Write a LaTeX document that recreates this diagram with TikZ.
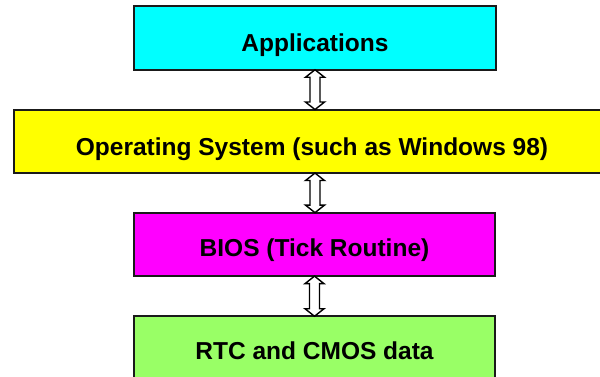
\documentclass[tikz,border=0pt]{standalone}
\usepackage{fontspec}
\setmainfont{Liberation Sans}
\usetikzlibrary{calc}
\definecolor{appcol}{HTML}{00FFFF}
\definecolor{oscol}{HTML}{FFFF00}
\definecolor{bioscol}{HTML}{FF00FF}
\definecolor{rtccol}{HTML}{99FF66}
\definecolor{edge}{HTML}{1A1A1A}
\tikzset{
  layer/.style={draw=edge, line width=2pt, minimum height=63.5pt, inner sep=0pt, outer sep=0pt},
  lbl/.style={anchor=base, inner sep=0pt, font=\bfseries\fontsize{24.5}{28}\selectfont},
  dblarrow/.style={draw=black, fill=white, line width=1.4pt, line join=miter}
}
\newcommand{\hollowdbl}[2]{%
  \draw[dblarrow] let \p1=(#1.south), \p2=(#2.north) in
    (\x1,\y1) -- (\x1+9.5pt,\y1-7.5pt) -- (\x1+5pt,\y1-7.5pt) -- (\x1+5pt,\y2+7.5pt)
    -- (\x1+9.5pt,\y2+7.5pt) -- (\x1,\y2) -- (\x1-9.5pt,\y2+7.5pt) -- (\x1-5pt,\y2+7.5pt)
    -- (\x1-5pt,\y1-7.5pt) -- (\x1-9.5pt,\y1-7.5pt) -- cycle;}
\begin{document}
\begin{tikzpicture}[x=1pt,y=-1pt]
\clip (0,0) rectangle (600,377);
\fill[white] (0,0) rectangle (600,377);
\node[layer, fill=appcol, minimum width=362pt] (app) at (315,38) {};
\node[layer, fill=oscol, minimum width=602pt] (os) at (315,141.3) {};
\node[layer, fill=bioscol, minimum width=361pt] (bios) at (314.5,244.4) {};
\node[layer, fill=rtccol, minimum width=361pt] (rtc) at (314.5,348) {};
\node[lbl] (appt) at (315,52) {Applications};
\node[lbl] (ost) at (312,156) {Operating System (such as Windows 98)};
\node[lbl] (biost) at (314.5,256.5) {BIOS (Tick Routine)};
\node[lbl] (rtct) at (314.5,359) {RTC and CMOS data};
\hollowdbl{app}{os}
\hollowdbl{os}{bios}
\hollowdbl{bios}{rtc}
\end{tikzpicture}
\end{document}
